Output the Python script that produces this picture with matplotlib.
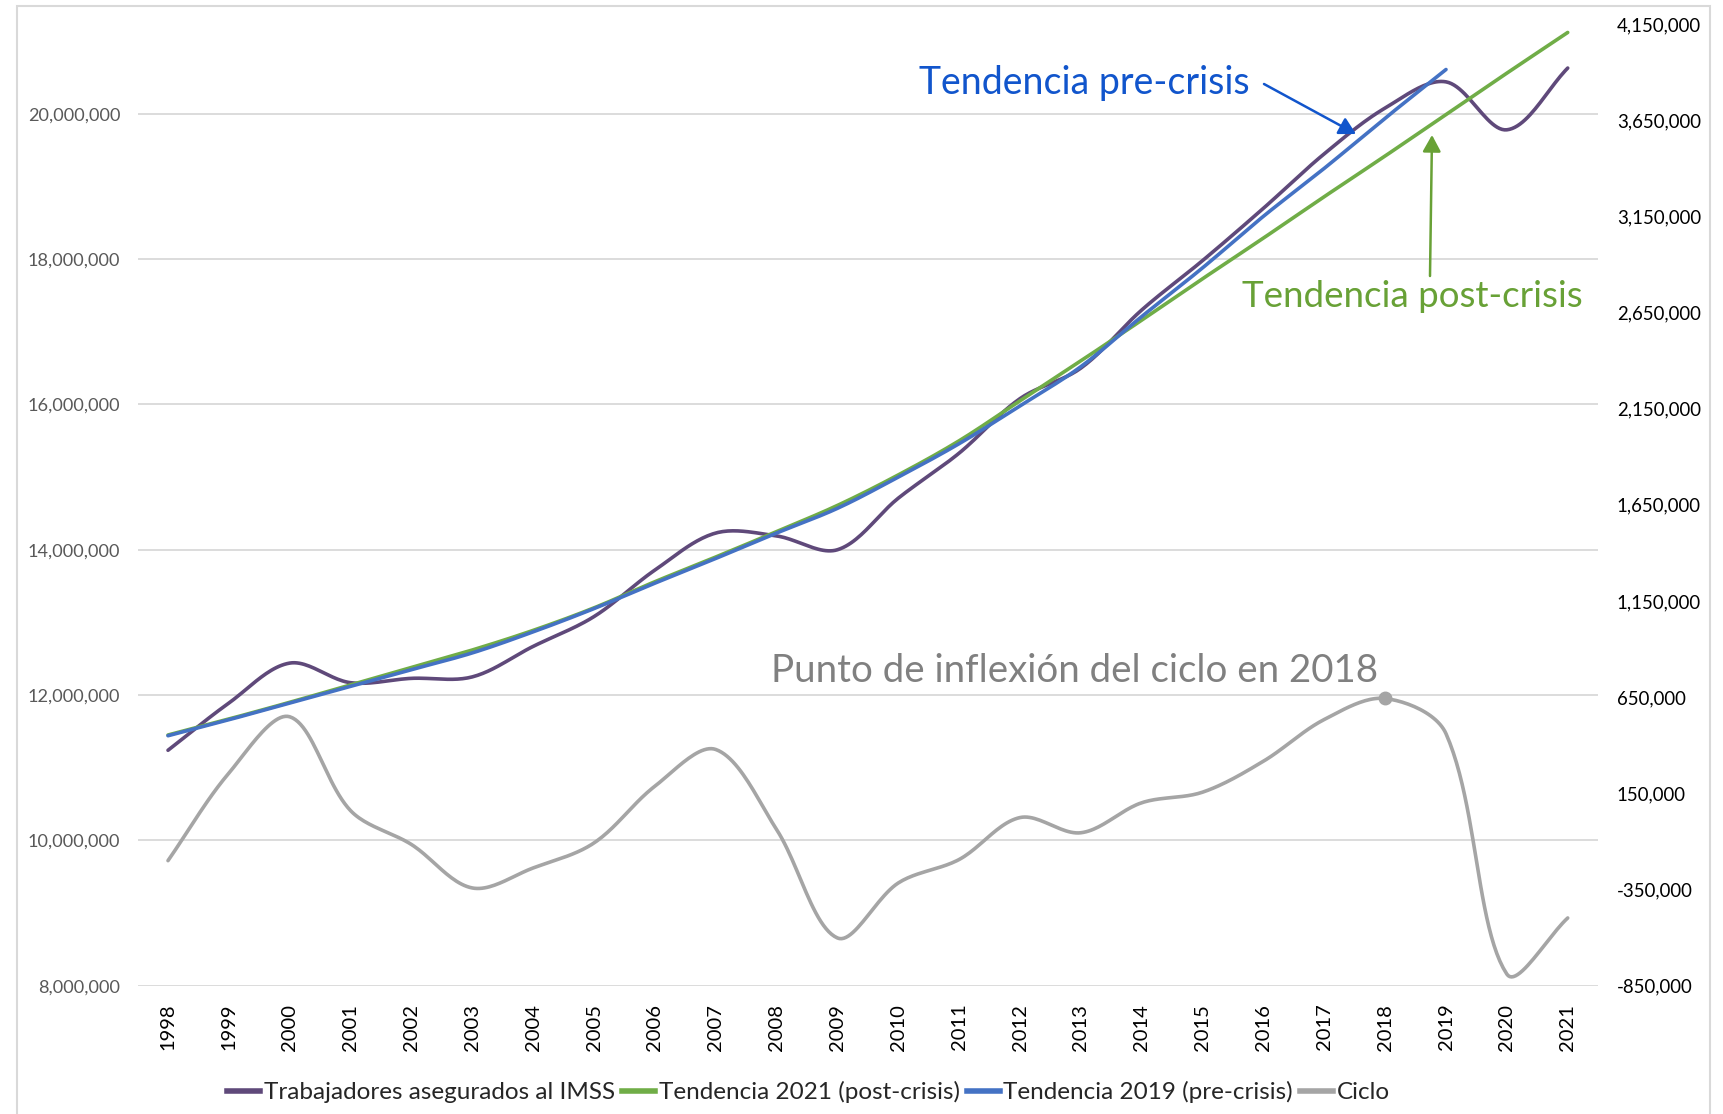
import matplotlib
matplotlib.use('Agg')
import matplotlib.pyplot as plt
import matplotlib.ticker as mticker
from matplotlib.lines import Line2D
from matplotlib.patches import Rectangle
import numpy as np

plt.rcParams['font.family'] = ['Lato', 'DejaVu Sans']

# ---- data ----
years = list(range(1998, 2022))
imss = [11.24, 11.89, 12.44, 12.17, 12.23, 12.25, 12.67, 13.08, 13.72, 14.23, 14.19, 14.00,
        14.71, 15.33, 16.08, 16.50, 17.30, 17.98, 18.70, 19.45, 20.08, 20.44, 19.78, 20.63]
trend_post = [11.45, 11.67, 11.90, 12.14, 12.38, 12.62, 12.89, 13.20, 13.56, 13.90, 14.25, 14.61,
              15.03, 15.50, 16.05, 16.60, 17.16, 17.73, 18.29, 18.86, 19.42, 19.99, 20.56, 21.12]
trend_pre = [11.44, 11.66, 11.89, 12.12, 12.35, 12.58, 12.87, 13.19, 13.54, 13.88, 14.23, 14.57,
             15.00, 15.46, 15.98, 16.52, 17.21, 17.88, 18.59, 19.25, 19.94, 20.61]
ciclo = [-200000, 255000, 548000, 60000, -116000, -342000, -238000, -108000, 187000, 378000,
         -38000, -602000, -316000, -194000, 24000, -55000, 101000, 156000, 317000, 534000,
         643000, 460000, -790000, -498000]

labels = ['Trabajadores asegurados al IMSS', 'Tendencia 2021 (post-crisis)',
          'Tendencia 2019 (pre-crisis)', 'Ciclo']
c_imss = '#5F497A'
c_post = '#70AD47'
c_pre = '#4472C4'
c_ciclo = '#A5A5A5'

# pixel scales used only to weight the smoothing like excel does
KX = 60.8
KY_LEFT = 145.3 / 2e6
KY_RIGHT = 96.1 / 5e5


def smooth(x, y, ky, n=25):
    # excel-like smoothed line: bezier segments, chord-length weighted tangents
    x = np.asarray(x, float)
    y = np.asarray(y, float)
    P = np.column_stack([x * KX, y * ky])
    N = len(x)
    t = np.linspace(0, 1, n)[1:, None]
    out = [P[0:1]]
    for i in range(N - 1):
        a = max(i - 1, 0)
        b = min(i + 2, N - 1)
        d01 = np.hypot(*(P[i] - P[a]))
        d12 = np.hypot(*(P[i + 1] - P[i]))
        d23 = np.hypot(*(P[b] - P[i + 1]))
        c1 = P[i] + (P[i + 1] - P[a]) * d12 / (3 * (d01 + d12))
        c2 = P[i + 1] - (P[b] - P[i]) * d12 / (3 * (d12 + d23))
        seg = (1-t)**3*P[i] + 3*(1-t)**2*t*c1 + 3*(1-t)*t**2*c2 + t**3*P[i+1]
        out.append(seg)
    out = np.vstack(out)
    return out[:, 0] / KX, out[:, 1] / ky


fig = plt.figure(figsize=(17.24, 11.14), dpi=100)
ax = fig.add_axes([0.0798, 0.1152, 0.8472, 0.8633])
ax2 = ax.twinx()

xi = np.arange(len(years))
lw = 2.6
sx, sy = smooth(xi, np.array(imss) * 1e6, KY_LEFT)
ax.plot(sx, sy, color=c_imss, lw=lw, solid_capstyle='round', zorder=3)
sx, sy = smooth(xi, np.array(trend_post) * 1e6, KY_LEFT)
ax.plot(sx, sy, color=c_post, lw=lw, solid_capstyle='round', zorder=4)
sx, sy = smooth(xi[:len(trend_pre)], np.array(trend_pre) * 1e6, KY_LEFT)
ax.plot(sx, sy, color=c_pre, lw=lw, solid_capstyle='round', zorder=5)

sx, sy = smooth(xi, ciclo, KY_RIGHT)
ax2.plot(sx, sy, color=c_ciclo, lw=lw, solid_capstyle='round')
i18 = years.index(2018)
ax2.plot([xi[i18]], [ciclo[i18]], 'o', color=c_ciclo, ms=9)

ax.set_xlim(-0.5, len(years) - 0.5)
ax.set_ylim(8e6, 21.237e6)
ax.set_yticks(np.arange(8e6, 20.1e6, 2e6))
ax2.set_ylim(-850000, 4150000)
ax2.set_yticks(np.arange(-850000, 4150001, 500000))
fmt = mticker.FuncFormatter(lambda v, p: '{:,.0f}'.format(v))
ax.yaxis.set_major_formatter(fmt)
ax2.yaxis.set_major_formatter(fmt)

ax.set_xticks(xi)
ax.set_xticklabels([str(y) for y in years], rotation=90)
ax.grid(axis='y', color='#D9D9D9', lw=1.3)
ax.set_axisbelow(True)
for a in (ax, ax2):
    for s in a.spines.values():
        s.set_visible(False)
ax.tick_params(axis='y', length=0, pad=12.5, labelsize=13.1, labelcolor='#595959')
ax.tick_params(axis='x', length=0, pad=13, labelsize=14.5, labelcolor='#000000')
ax2.tick_params(axis='y', length=0, pad=13.4, labelsize=13.4, labelcolor='#000000')

# annotations
H = 1114
arrow_kw = '-|>,head_length=1.0,head_width=0.55'
fig.text(919, H - 94, 'Tendencia pre-crisis', transform=None, fontsize=27,
         color='#1155CC', ha='left', va='baseline')
ax.annotate('', xy=(1356, H - 134), xycoords='figure pixels', xytext=(1264, H - 84),
            textcoords='figure pixels',
            arrowprops=dict(arrowstyle=arrow_kw, color='#1155CC', lw=1.8, shrinkA=0, shrinkB=0))
fig.text(1242, H - 307, 'Tendencia post-crisis', transform=None, fontsize=26.5,
         color='#68A136', ha='left', va='baseline')
ax.annotate('', xy=(1432, H - 135), xycoords='figure pixels', xytext=(1430, H - 276),
            textcoords='figure pixels',
            arrowprops=dict(arrowstyle=arrow_kw, color='#68A136', lw=1.8, shrinkA=0, shrinkB=0))
fig.text(771, H - 682, 'Punto de inflexión del ciclo en 2018', transform=None, fontsize=27.7,
         color='#808080', ha='left', va='baseline')

# legend
handles = [Line2D([], [], color=c, lw=4) for c in (c_imss, c_post, c_pre, c_ciclo)]
fig.legend(handles, labels, loc='center', bbox_to_anchor=(0.469, 0.0197), ncol=4,
           frameon=False, fontsize=17.5, handlelength=1.35, handletextpad=0.15,
           columnspacing=0.3, labelcolor='#262626')

# chart border
fig.patches.append(Rectangle((17, -20), 1693, H - 6 + 20, transform=None, fill=False,
                             edgecolor='#D9D9D9', lw=1.5))

fig.savefig('out.png', dpi=100)
